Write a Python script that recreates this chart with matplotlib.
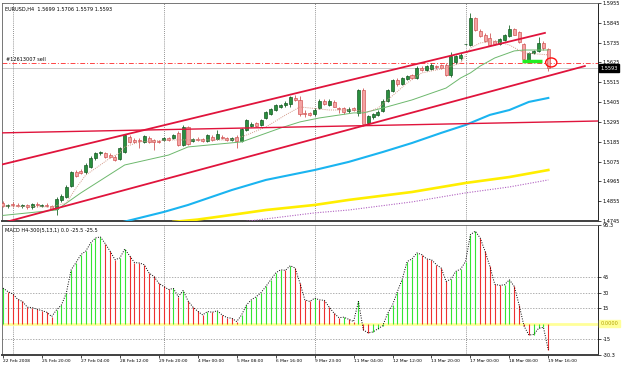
import numpy as np
import matplotlib
matplotlib.use("Agg")
import matplotlib.pyplot as plt
import matplotlib.transforms as mtransforms
from matplotlib.patches import Ellipse

# EURUSD H4 candles, bar 0 = 22 Feb 2008 16:00
opens = [1.4845, 1.4828, 1.4840, 1.4836, 1.4826, 1.4832, 1.4820, 1.4838, 1.4830, 1.4836,
         1.4826, 1.4810, 1.4862, 1.4880, 1.4940, 1.5015, 1.5025, 1.5015, 1.5045, 1.5095,
         1.5120, 1.5125, 1.5110, 1.5100, 1.5090, 1.5128, 1.5210, 1.5195, 1.5195, 1.5184,
         1.5208, 1.5195, 1.5190, 1.5195, 1.5206, 1.5206, 1.5233, 1.5167, 1.5267, 1.5190,
         1.5200, 1.5200, 1.5189, 1.5211, 1.5200, 1.5214, 1.5206, 1.5195, 1.5211, 1.5189,
         1.5250, 1.5275, 1.5289, 1.5278, 1.5317, 1.5339, 1.5361, 1.5378, 1.5389, 1.5395,
         1.5430, 1.5417, 1.5345, 1.5342, 1.5339, 1.5370, 1.5410, 1.5390, 1.5405, 1.5370,
         1.5372, 1.5355, 1.5370, 1.5344, 1.5472, 1.5290, 1.5320, 1.5335, 1.5356, 1.5412,
         1.5465, 1.5525, 1.5505, 1.5535, 1.5555, 1.5540, 1.5595, 1.5583, 1.5590, 1.5605,
         1.5610, 1.5611, 1.5555, 1.5625, 1.5650, 1.5725, 1.5722, 1.5870, 1.5800, 1.5780,
         1.5760, 1.5745, 1.5725, 1.5750, 1.5770, 1.5810, 1.5795, 1.5730, 1.5640, 1.5675,
         1.5690, 1.5735, 1.5699]
highs = [1.4856, 1.4840, 1.4850, 1.4845, 1.4838, 1.4840, 1.4845, 1.4848, 1.4842, 1.4845,
         1.4832, 1.4880, 1.4895, 1.4945, 1.5025, 1.5030, 1.5035, 1.5065, 1.5105, 1.5130,
         1.5135, 1.5130, 1.5120, 1.5110, 1.5158, 1.5230, 1.5222, 1.5205, 1.5205, 1.5225,
         1.5215, 1.5200, 1.5196, 1.5212, 1.5212, 1.5230, 1.5245, 1.5280, 1.5275, 1.5208,
         1.5210, 1.5205, 1.5230, 1.5220, 1.5250, 1.5222, 1.5212, 1.5212, 1.5225, 1.5262,
         1.5312, 1.5292, 1.5295, 1.5312, 1.5356, 1.5372, 1.5395, 1.5395, 1.5410, 1.5440,
         1.5445, 1.5440, 1.5360, 1.5352, 1.5370, 1.5420, 1.5420, 1.5420, 1.5415, 1.5380,
         1.5380, 1.5375, 1.5380, 1.5480, 1.5482, 1.5335, 1.5345, 1.5360, 1.5420, 1.5475,
         1.5535, 1.5540, 1.5545, 1.5558, 1.5562, 1.5605, 1.5605, 1.5612, 1.5620, 1.5612,
         1.5615, 1.5620, 1.5685, 1.5668, 1.5680, 1.5730, 1.5900, 1.5880, 1.5812, 1.5790,
         1.5790, 1.5752, 1.5762, 1.5782, 1.5833, 1.5818, 1.5800, 1.5735, 1.5685, 1.5695,
         1.5765, 1.5745, 1.5706]
lows = [1.4820, 1.4815, 1.4825, 1.4820, 1.4815, 1.4812, 1.4812, 1.4825, 1.4822, 1.4820,
        1.4805, 1.4778, 1.4850, 1.4870, 1.4935, 1.4990, 1.5005, 1.5005, 1.5040, 1.5085,
        1.5110, 1.5095, 1.5095, 1.5078, 1.5084, 1.5120, 1.5180, 1.5178, 1.5150, 1.5178,
        1.5180, 1.5139, 1.5178, 1.5190, 1.5190, 1.5200, 1.5160, 1.5160, 1.5165, 1.5182,
        1.5188, 1.5182, 1.5182, 1.5190, 1.5195, 1.5200, 1.5190, 1.5188, 1.5150, 1.5182,
        1.5245, 1.5268, 1.5265, 1.5270, 1.5310, 1.5332, 1.5355, 1.5370, 1.5375, 1.5380,
        1.5410, 1.5330, 1.5325, 1.5330, 1.5330, 1.5365, 1.5390, 1.5385, 1.5375, 1.5345,
        1.5340, 1.5345, 1.5355, 1.5330, 1.5275, 1.5280, 1.5310, 1.5330, 1.5350, 1.5405,
        1.5460, 1.5495, 1.5500, 1.5528, 1.5532, 1.5535, 1.5578, 1.5575, 1.5585, 1.5590,
        1.5590, 1.5550, 1.5545, 1.5618, 1.5640, 1.5722, 1.5715, 1.5800, 1.5765, 1.5740,
        1.5718, 1.5722, 1.5720, 1.5745, 1.5765, 1.5775, 1.5735, 1.5640, 1.5630, 1.5670,
        1.5685, 1.5695, 1.5579]
closes = [1.4828, 1.4834, 1.4834, 1.4828, 1.4832, 1.4822, 1.4838, 1.4832, 1.4836, 1.4828,
          1.4812, 1.4865, 1.4885, 1.4935, 1.5015, 1.4995, 1.5010, 1.5056, 1.5095, 1.5122,
          1.5128, 1.5102, 1.5100, 1.5084, 1.5150, 1.5222, 1.5186, 1.5184, 1.5189, 1.5215,
          1.5184, 1.5184, 1.5184, 1.5206, 1.5195, 1.5224, 1.5167, 1.5267, 1.5172, 1.5200,
          1.5195, 1.5190, 1.5222, 1.5195, 1.5228, 1.5206, 1.5195, 1.5206, 1.5189, 1.5256,
          1.5306, 1.5283, 1.5272, 1.5306, 1.5350, 1.5367, 1.5389, 1.5389, 1.5400, 1.5433,
          1.5417, 1.5339, 1.5339, 1.5336, 1.5361, 1.5410, 1.5395, 1.5412, 1.5380, 1.5364,
          1.5350, 1.5368, 1.5362, 1.5472, 1.5283, 1.5328, 1.5339, 1.5350, 1.5412, 1.5470,
          1.5528, 1.5505, 1.5540, 1.5550, 1.5540, 1.5595, 1.5585, 1.5605, 1.5611, 1.5600,
          1.5595, 1.5555, 1.5660, 1.5660, 1.5666, 1.5728, 1.5870, 1.5805, 1.5772, 1.5745,
          1.5722, 1.5730, 1.5755, 1.5775, 1.5810, 1.5780, 1.5740, 1.5645, 1.5680, 1.5690,
          1.5735, 1.5705, 1.5593]

# MACD H4-300(5,13,1) values per bar
macd = [34.3, 31, 28.8, 23.6, 21.4, 15.9, 15.5, 13.9, 12.6, 11,
        6.8, 13.3, 18, 29.4, 52, 59, 66.7, 70, 78, 82.8,
        83.8, 77.3, 70, 61.8, 63.4, 72, 65.7, 59, 58.6, 57,
        48.9, 45.6, 39, 36, 33, 34, 26, 32, 22, 16,
        12, 8.4, 11.7, 11, 12.5, 8.4, 5.8, 5.2, 2, 8.4,
        18, 23, 26, 30, 36, 42.4, 48.9, 52, 51.5, 56,
        53.7, 39, 23, 21.4, 24.6, 23, 22.5, 15.9, 10, 5.8,
        6.2, 4.2, 2, 21.4, -6, -9, -8, -5, -2, 10,
        18, 31, 43, 60, 62.5, 68.3, 66.7, 62.5, 61.8, 57,
        53.7, 40.8, 43, 50.5, 52.8, 60, 86, 89.3, 82.8, 70,
        55.3, 38, 37, 37.5, 42.4, 36, 18, -2.3, -11, -10.5,
        -4.5, -3.6, -25.5]

# moving averages (bar, price)
ma_green_bars = [0, 11, 16, 25, 34, 38, 49, 57, 61, 65, 72, 74, 78, 84, 91, 94, 96, 98, 101, 105, 107, 112]
ma_green_vals = [1.4776, 1.4806, 1.4901, 1.5056, 1.5111, 1.5156, 1.5184, 1.5261, 1.5295, 1.5317, 1.5345,
                 1.5345, 1.5372, 1.5417, 1.5483, 1.5539, 1.5567, 1.5605, 1.5650, 1.5689, 1.5694, 1.5694]
ma_fast_bars = [0, 10, 13, 15, 17, 20, 22, 24, 25, 28, 34, 38, 47, 50, 54, 58, 61, 67, 72, 75, 77, 79,
                83, 86, 91, 94, 96, 98, 101, 104, 107, 112]
ma_fast_vals = [1.4828, 1.4823, 1.4845, 1.4928, 1.5000, 1.5056, 1.5095, 1.5123, 1.5156, 1.5184, 1.5195,
                1.5195, 1.5195, 1.5222, 1.5267, 1.5333, 1.5378, 1.5361, 1.5361, 1.5350, 1.5372, 1.5417,
                1.5511, 1.5567, 1.5594, 1.5622, 1.5705, 1.5733, 1.5744, 1.5722, 1.5678, 1.5667]
ma_cyan_bars = [24, 33, 38, 47, 54, 64, 71, 78, 84, 90, 95, 100, 104, 108, 112]
ma_cyan_vals = [1.4735, 1.4795, 1.4834, 1.4917, 1.4973, 1.5028, 1.5073, 1.5128, 1.5178, 1.5234, 1.5278,
                1.5334, 1.5361, 1.5406, 1.5428]
ma_yellow_bars = [35, 40, 47, 54, 64, 71, 84, 95, 104, 112]
ma_yellow_vals = [1.4740, 1.4753, 1.4779, 1.4806, 1.4834, 1.4862, 1.4906, 1.4956, 1.4989, 1.5028]
ma_purple_bars = [49, 64, 71, 84, 95, 104, 112]
ma_purple_vals = [1.4740, 1.4790, 1.4806, 1.4851, 1.4901, 1.4934, 1.4973]

# trend lines (bar, price) end points
upper_channel = ([-0.6, 111.3], [1.5056, 1.5789])
lower_channel = ([0.0, 119.5], [1.4735, 1.5605])
flat_line = ([-0.6, 122.2], [1.5234, 1.5300])
support_mark = ([106.6, 110.7], [1.5633, 1.5633])
circle_at = (112.6, 1.5625)

order_price = 1.5622
bid = 1.5593
price_ticks = [1.4745, 1.4855, 1.4965, 1.5075, 1.5185, 1.5295, 1.5405, 1.5515, 1.5625, 1.5735, 1.5845, 1.5955]
week_bars = [2, 33, 64, 95]
date_labels = ["22 Feb 2008", "25 Feb 20:00", "27 Feb 04:00", "28 Feb 12:00", "29 Feb 20:00",
               "4 Mar 00:00", "5 Mar 08:00", "6 Mar 16:00", "9 Mar 23:00", "11 Mar 04:00",
               "12 Mar 12:00", "13 Mar 20:00", "17 Mar 00:00", "18 Mar 08:00", "19 Mar 16:00"]
macd_levels = [45, 30, 15, -15]

W, H = 625, 367
fs = 3.6
plt.rcParams['font.family'] = ['DejaVu Sans']

fig = plt.figure(figsize=(W / 100, H / 100), dpi=100)
ax = fig.add_axes([2 / W, 1 - 221 / H, 596 / W, 218 / H])
ax2 = fig.add_axes([2 / W, 1 - 355 / H, 596 / W, 130 / H])

o, h, l, c = map(np.array, (opens, highs, lows, closes))
x = np.arange(len(c))
up = c >= o

ax.vlines(x, l, h, colors=np.where(up, '#1c6b2c', '#d05a5a'), lw=0.6, zorder=3)
ax.bar(x[up], c[up] - o[up], bottom=o[up], width=0.62, color='#2a8f3e', edgecolor='#0f4f1c', lw=0.45, zorder=3)
ax.bar(x[~up], o[~up] - c[~up], bottom=c[~up], width=0.62, color='#f4a3a3', edgecolor='#d04c4c', lw=0.45, zorder=3)

ax.plot(ma_green_bars, ma_green_vals, color='#6db86d', lw=0.7, zorder=4)
ax.plot(ma_fast_bars, ma_fast_vals, color='#d49a8a', lw=0.7, ls=(0, (1, 1.2)), zorder=4)
ax.plot(ma_cyan_bars, ma_cyan_vals, color='#1ab4f0', lw=1.5, zorder=4)
ax.plot(ma_yellow_bars, ma_yellow_vals, color='#ffee00', lw=1.9, zorder=4)
ax.plot(ma_purple_bars, ma_purple_vals, color='#b060c0', lw=0.8, ls=(0, (1, 1.3)), zorder=4)

for xs, ys in (upper_channel, lower_channel):
    ax.plot(xs, ys, color='#e0143c', lw=1.3, zorder=5)
ax.plot(*flat_line, color='#e0143c', lw=1.0, zorder=5)
ax.plot(*support_mark, color='#22ee22', lw=2.5, solid_capstyle='butt', zorder=6)
ax.add_patch(Ellipse(circle_at, 2.3, 0.0050, fill=False, ec='#ff1010', lw=1.0, zorder=6))

ax.axhline(bid, color='#c8c8c8', lw=0.7, zorder=1)
ax.axhline(order_price, color='#ff4444', lw=0.7, ls=(0, (5, 2, 1, 2)), zorder=2)
ax.text(0.6, order_price + 0.0004, '#12613007 sell', fontsize=fs, va='bottom', ha='left', zorder=6)

for b in week_bars:
    ax.axvline(b, color='#707070', lw=0.6, ls=(0, (1, 1.5)), zorder=1)
    ax2.axvline(b, color='#707070', lw=0.6, ls=(0, (1, 1.5)), zorder=1)

ax.set_xlim(-0.2, 122.2)
ax.set_ylim(1.4745, 1.5955)
ax.set_xticks([])
ax.yaxis.tick_right()
ax.set_yticks(price_ticks)
ax.set_yticklabels([f'{p:.4f}' for p in price_ticks])
ax.tick_params(axis='y', labelsize=fs, length=2, width=0.5, pad=1.5, color='black')
trans = mtransforms.blended_transform_factory(ax.transAxes, ax.transData)
ax.text(1.004, bid, f'{bid:.4f}', transform=trans, fontsize=fs, color='white', va='center', ha='left',
        bbox=dict(boxstyle='square,pad=0.25', fc='black', ec='black'), zorder=7, clip_on=False)
ax.text(0.005, 0.985, 'EURUSD,H4  1.5699 1.5706 1.5579 1.5593', transform=ax.transAxes,
        fontsize=fs, va='top', ha='left')

# MACD pane
m = np.array(macd)
rising = np.r_[True, m[1:] > m[:-1]]
ax2.axhline(0, color='#ffff99', lw=2.0, zorder=1)
for lv in macd_levels:
    ax2.axhline(lv, color='#909090', lw=0.5, ls=(0, (2, 2)), zorder=1)
ax2.vlines(x, 0, m, colors=np.where(rising, '#33e533', '#ee3030'), lw=0.8, zorder=3)
ax2.plot(x, m, color='black', lw=0.7, ls=(0, (1, 1.5)), zorder=4)

ax2.set_xlim(-0.2, 122.2)
ax2.set_ylim(-30.3, 95.3)
ax2.yaxis.tick_right()
ax2.set_yticks([95.3, 45, 30, 15, -15, -30.3])
ax2.set_yticklabels(['95.3', '45', '30', '15', '-15', '-30.3'])
ax2.tick_params(axis='y', labelsize=fs, length=2, width=0.5, pad=1.5)
ax2.set_xticks(np.arange(0, 8 * len(date_labels), 8))
ax2.set_xticklabels(date_labels, ha='left')
ax2.tick_params(axis='x', labelsize=fs - 0.4, length=2, width=0.5, pad=1.0)
trans2 = mtransforms.blended_transform_factory(ax2.transAxes, ax2.transData)
ax2.text(1.004, 0, '0.0000', transform=trans2, fontsize=fs, color='#b0a000', va='center', ha='left',
         bbox=dict(boxstyle='square,pad=0.25', fc='#ffff99', ec='#ffff99'), zorder=7, clip_on=False)
ax2.text(0.005, 0.975, 'MACD H4-300(5,13,1) 0.0 -25.5 -25.5', transform=ax2.transAxes,
         fontsize=fs, va='top', ha='left')

for a in (ax, ax2):
    for s in a.spines.values():
        s.set_color('#606060')
        s.set_linewidth(0.6)
    a.spines['right'].set_color('black')
    a.spines['bottom'].set_color('#404040')
    a.spines['bottom'].set_linewidth(1.4)

fig.savefig('out.png', dpi=100, facecolor='white')
